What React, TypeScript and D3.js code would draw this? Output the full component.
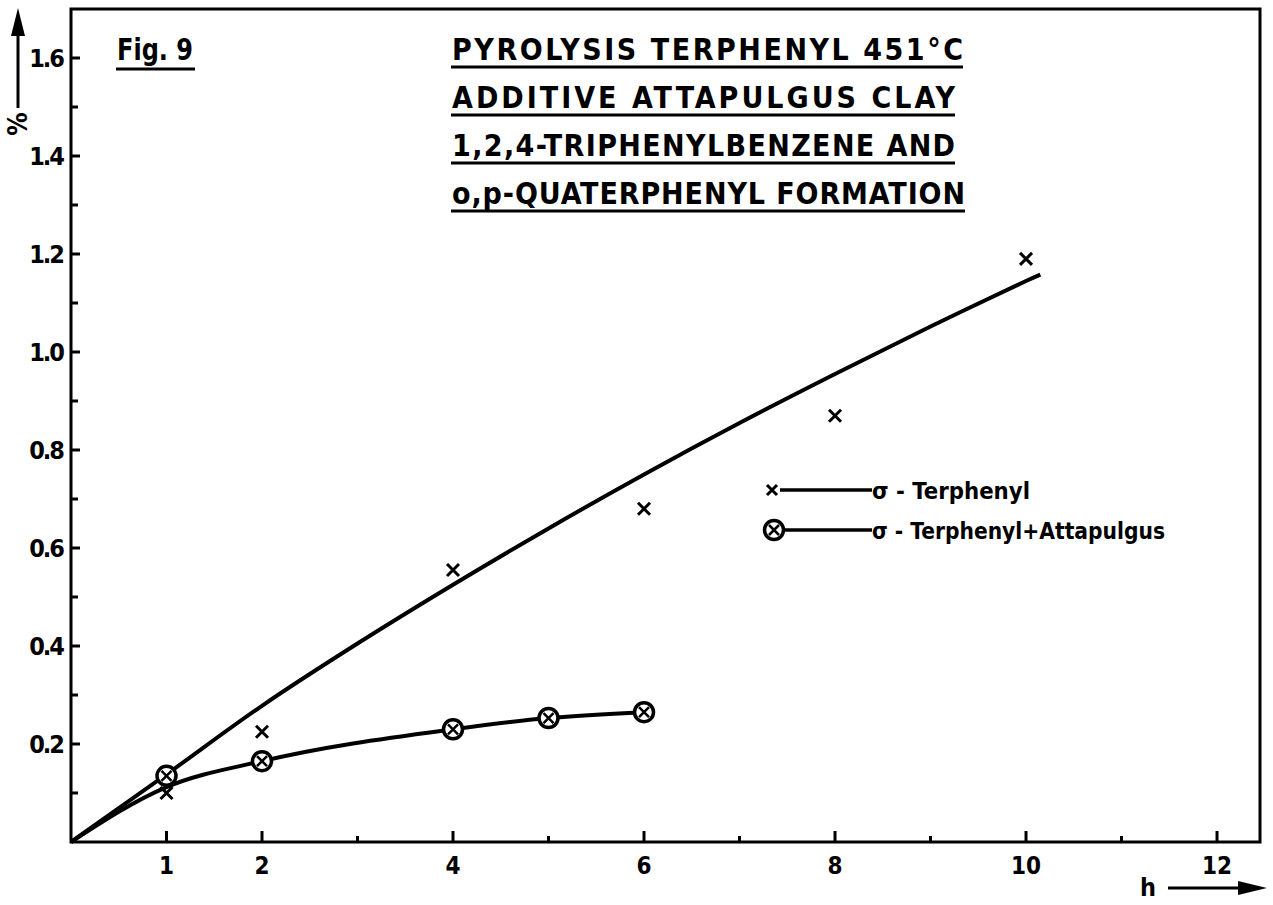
import * as d3 from "d3";
import { useEffect, useRef } from "react";

// measured points (h, %)
const terphenylHours = [1, 2, 4, 6, 8, 10];
const terphenylValues = [0.10, 0.225, 0.555, 0.68, 0.87, 1.19];

// hand-drawn fit through terphenyl points
const terphenylFitHours = [0, 1, 2, 3, 4, 5, 6, 7, 8, 9, 10, 10.15];
const terphenylFitValues = [0, 0.138, 0.278, 0.405, 0.525, 0.64, 0.75, 0.855, 0.955, 1.052, 1.145, 1.158];

const attapulgusHours = [1, 2, 4, 5, 6];
const attapulgusValues = [0.135, 0.165, 0.23, 0.253, 0.265];

const attapulgusFitHours = [0, 1, 2, 4, 5, 6];
const attapulgusFitValues = [0, 0.112, 0.165, 0.23, 0.253, 0.265];

const xTickLabels = [1, 2, 4, 6, 8, 10, 12];
const xMinorTicks = [3, 5, 7, 9, 11];
const yTickLabels = [0.2, 0.4, 0.6, 0.8, 1.0, 1.2, 1.4, 1.6];
const yMinorTicks = [0.1, 0.3, 0.5, 0.7, 0.9, 1.1, 1.3, 1.5];

const titleLines = [
    "PYROLYSIS TERPHENYL 451°C",
    "ADDITIVE ATTAPULGUS CLAY",
    "1,2,4-TRIPHENYLBENZENE AND",
    "o,p-QUATERPHENYL FORMATION",
];
const titleWidths = [511, 503, 503, 513];
const legendLabels = ["σ - Terphenyl", "σ - Terphenyl+Attapulgus"];
const legendWidths = [158, 293];

const FONT = "'DejaVu Sans Condensed', 'Liberation Sans Narrow', sans-serif";

const App = () => {
    const svgRef = useRef(null);

    useEffect(() => {
        const svg = d3.select(svgRef.current);
        const width = 1273;
        const height = 905;
        const margin = { top: 9, right: 13, bottom: 63, left: 71 };

        svg.selectAll("*").remove();

        const x = d3.scaleLinear()
            .domain([0, 12.45])
            .range([margin.left, width - margin.right]);

        const y = d3.scaleLinear()
            .domain([0, 1.7])
            .range([height - margin.bottom, margin.top]);

        const x0 = x(0), y0 = y(0);

        // frame
        svg.append("rect")
            .attr("x", margin.left)
            .attr("y", margin.top)
            .attr("width", width - margin.left - margin.right)
            .attr("height", height - margin.top - margin.bottom)
            .attr("fill", "none")
            .attr("stroke", "#000")
            .attr("stroke-width", 3);

        // x ticks
        svg.append("g").selectAll("line")
            .data(xTickLabels)
            .join("line")
            .attr("x1", d => x(d)).attr("x2", d => x(d))
            .attr("y1", y0).attr("y2", y0 - 11)
            .attr("stroke", "#000").attr("stroke-width", 3);

        svg.append("g").selectAll("line")
            .data(xMinorTicks)
            .join("line")
            .attr("x1", d => x(d)).attr("x2", d => x(d))
            .attr("y1", y0).attr("y2", y0 - 6)
            .attr("stroke", "#000").attr("stroke-width", 3);

        svg.append("g").selectAll("text")
            .data(xTickLabels)
            .join("text")
            .attr("x", d => x(d))
            .attr("y", y0 + 32)
            .attr("text-anchor", "middle")
            .attr("font-family", FONT)
            .attr("font-weight", "bold")
            .attr("font-size", 24)
            .text(d => d);

        // y ticks
        svg.append("g").selectAll("line")
            .data(yTickLabels)
            .join("line")
            .attr("x1", x0).attr("x2", x0 + 9)
            .attr("y1", d => y(d)).attr("y2", d => y(d))
            .attr("stroke", "#000").attr("stroke-width", 3);

        svg.append("g").selectAll("line")
            .data(yMinorTicks)
            .join("line")
            .attr("x1", x0).attr("x2", x0 + 7)
            .attr("y1", d => y(d)).attr("y2", d => y(d))
            .attr("stroke", "#000").attr("stroke-width", 3);

        svg.append("g").selectAll("text")
            .data(yTickLabels)
            .join("text")
            .attr("x", x0 - 8)
            .attr("y", d => y(d) + 9)
            .attr("text-anchor", "end")
            .attr("font-family", FONT)
            .attr("font-weight", "bold")
            .attr("font-size", 25)
            .attr("letter-spacing", -2)
            .text(d => d3.format(".1f")(d));

        // axis labels with arrows
        svg.append("path")
            .attr("d", "M18,108 L18,30")
            .attr("stroke", "#000").attr("stroke-width", 3);
        svg.append("path")
            .attr("d", "M18,8 L11,36 L25,36 Z")
            .attr("fill", "#000");
        svg.append("text")
            .attr("transform", "translate(27,124) rotate(-90)")
            .attr("text-anchor", "middle")
            .attr("font-family", FONT)
            .attr("font-weight", "bold")
            .attr("font-size", 26)
            .text("%");

        svg.append("text")
            .attr("x", 1148)
            .attr("y", 896)
            .attr("text-anchor", "middle")
            .attr("font-family", FONT)
            .attr("font-weight", "bold")
            .attr("font-size", 25)
            .text("h");
        svg.append("path")
            .attr("d", "M1168,888 L1240,888")
            .attr("stroke", "#000").attr("stroke-width", 3);
        svg.append("path")
            .attr("d", "M1267,888 L1238,881 L1238,895 Z")
            .attr("fill", "#000");

        // curves
        const line = d3.line()
            .x(d => x(d[0]))
            .y(d => y(d[1]));

        svg.append("path")
            .datum(terphenylFitHours.map((h, i) => [h, terphenylFitValues[i]]))
            .attr("fill", "none")
            .attr("stroke", "#000")
            .attr("stroke-width", 4)
            .attr("d", line.curve(d3.curveCatmullRom.alpha(0.5)));

        svg.append("path")
            .datum(attapulgusFitHours.map((h, i) => [h, attapulgusFitValues[i]]))
            .attr("fill", "none")
            .attr("stroke", "#000")
            .attr("stroke-width", 4)
            .attr("d", line.curve(d3.curveMonotoneX));

        const cross = (g, cx, cy, s, w) => {
            g.append("path")
                .attr("d", `M${cx - s},${cy - s}L${cx + s},${cy + s}M${cx - s},${cy + s}L${cx + s},${cy - s}`)
                .attr("stroke", "#000").attr("stroke-width", w);
        };
        const circleCross = (g, cx, cy) => {
            g.append("circle")
                .attr("cx", cx).attr("cy", cy).attr("r", 9.5)
                .attr("fill", "#fff").attr("stroke", "#000").attr("stroke-width", 3.5);
            cross(g, cx, cy, 5, 2.5);
        };

        const marks = svg.append("g");
        terphenylHours.forEach((h, i) => cross(marks, x(h), y(terphenylValues[i]), 6, 3));
        attapulgusHours.forEach((h, i) => circleCross(marks, x(h), y(attapulgusValues[i])));

        // legend
        const legend = svg.append("g");
        cross(legend, 772, 490, 5, 3);
        legend.append("line").attr("x1", 780).attr("x2", 872).attr("y1", 490).attr("y2", 490)
            .attr("stroke", "#000").attr("stroke-width", 3.5);
        circleCross(legend, 774, 530);
        legend.append("line").attr("x1", 784).attr("x2", 872).attr("y1", 530).attr("y2", 530)
            .attr("stroke", "#000").attr("stroke-width", 3.5);
        legend.selectAll("text")
            .data(legendLabels)
            .join("text")
            .attr("x", 872)
            .attr("y", (d, i) => 499 + i * 40)
            .attr("font-family", FONT)
            .attr("font-weight", "bold")
            .attr("font-size", 23)
            .attr("textLength", (d, i) => legendWidths[i])
            .attr("lengthAdjust", "spacingAndGlyphs")
            .text(d => d);

        // title block
        const title = svg.append("g");
        title.selectAll("text")
            .data(titleLines)
            .join("text")
            .attr("x", 452)
            .attr("y", (d, i) => 60 + i * 48)
            .attr("font-family", FONT)
            .attr("font-weight", "bold")
            .attr("font-size", 30)
            .attr("textLength", (d, i) => titleWidths[i])
            .attr("lengthAdjust", "spacing")
            .text(d => d);
        title.selectAll("line")
            .data(titleLines)
            .join("line")
            .attr("x1", 451)
            .attr("x2", (d, i) => 452 + titleWidths[i])
            .attr("y1", (d, i) => 67 + i * 48)
            .attr("y2", (d, i) => 67 + i * 48)
            .attr("stroke", "#000").attr("stroke-width", 3);

        svg.append("text")
            .attr("x", 117)
            .attr("y", 60)
            .attr("font-family", FONT)
            .attr("font-weight", "bold")
            .attr("font-size", 30)
            .attr("textLength", 76)
            .attr("lengthAdjust", "spacingAndGlyphs")
            .text("Fig. 9");
        svg.append("line")
            .attr("x1", 116).attr("x2", 195).attr("y1", 69).attr("y2", 69)
            .attr("stroke", "#000").attr("stroke-width", 3);
    }, []);

    return (
        <svg
            ref={svgRef}
            width={1273}
            height={905}
            style={{ position: "absolute", left: 0, top: 0, background: "#fff" }}
        />
    );
};

export default App;
